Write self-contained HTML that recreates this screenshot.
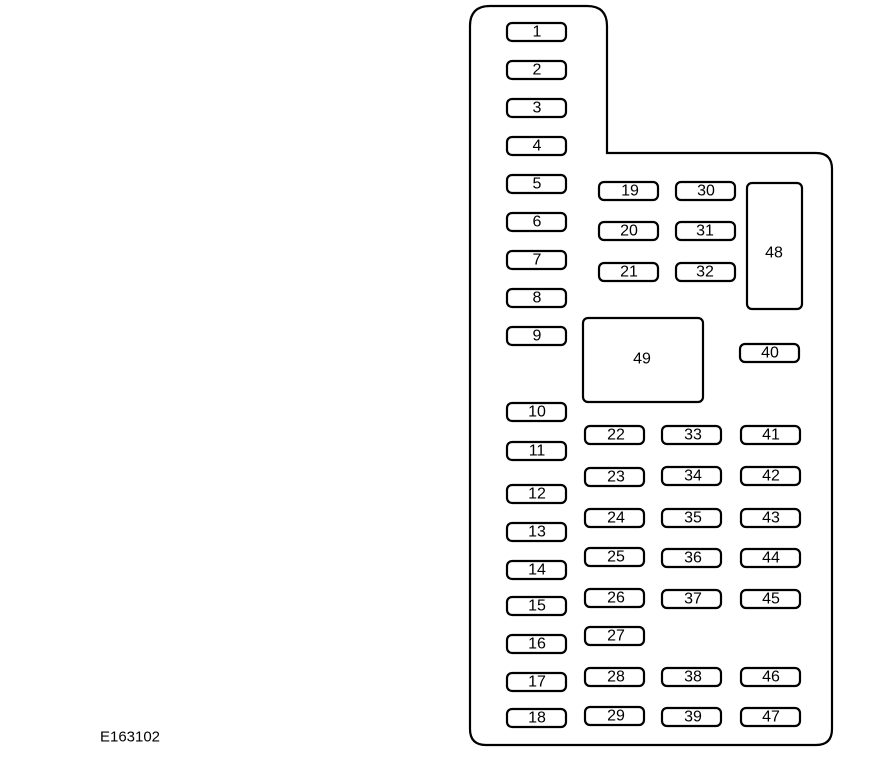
<!DOCTYPE html>
<html><head><meta charset="utf-8"><style>
html,body{margin:0;padding:0;background:#fff}
svg{display:block}
text{font-family:"Liberation Sans",sans-serif;font-size:16px;fill:#000;text-anchor:middle;dominant-baseline:central}
.f{fill:#fff;stroke:#000;stroke-width:2.2}
</style></head><body>
<svg width="874" height="763" viewBox="0 0 874 763" xmlns="http://www.w3.org/2000/svg">
<path d="M470,26 Q470,6 490,6 L587,6 Q607,6 607,26 L607,153 L816,153 Q832,153 832,169 L832,729 Q832,745 816,745 L486,745 Q470,745 470,729 Z" fill="#fff" stroke="#000" stroke-width="2.2"/>
<rect class="f" x="507" y="23" width="59" height="18" rx="5"/><text x="537" y="32">1</text>
<rect class="f" x="507" y="61" width="59" height="18" rx="5"/><text x="537" y="70">2</text>
<rect class="f" x="507" y="99" width="59" height="18" rx="5"/><text x="537" y="108">3</text>
<rect class="f" x="507" y="137" width="59" height="18" rx="5"/><text x="537" y="146">4</text>
<rect class="f" x="507" y="175" width="59" height="18" rx="5"/><text x="537" y="184">5</text>
<rect class="f" x="507" y="213" width="59" height="18" rx="5"/><text x="537" y="222">6</text>
<rect class="f" x="507" y="251" width="59" height="18" rx="5"/><text x="537" y="260">7</text>
<rect class="f" x="507" y="289" width="59" height="18" rx="5"/><text x="537" y="298">8</text>
<rect class="f" x="507" y="327" width="59" height="18" rx="5"/><text x="537" y="336">9</text>
<rect class="f" x="507" y="403" width="59" height="18" rx="5"/><text x="537" y="412">10</text>
<rect class="f" x="507" y="442" width="59" height="18" rx="5"/><text x="537" y="451">11</text>
<rect class="f" x="507" y="485" width="59" height="18" rx="5"/><text x="537" y="494">12</text>
<rect class="f" x="507" y="523" width="59" height="18" rx="5"/><text x="537" y="532">13</text>
<rect class="f" x="507" y="561" width="59" height="18" rx="5"/><text x="537" y="570">14</text>
<rect class="f" x="507" y="597" width="59" height="18" rx="5"/><text x="537" y="606">15</text>
<rect class="f" x="507" y="635" width="59" height="18" rx="5"/><text x="537" y="644">16</text>
<rect class="f" x="507" y="673" width="59" height="18" rx="5"/><text x="537" y="682">17</text>
<rect class="f" x="507" y="709" width="59" height="18" rx="5"/><text x="537" y="718">18</text>
<rect class="f" x="599" y="182" width="59" height="18" rx="5"/><text x="630" y="191">19</text>
<rect class="f" x="599" y="222" width="59" height="18" rx="5"/><text x="629" y="231">20</text>
<rect class="f" x="599" y="263" width="59" height="18" rx="5"/><text x="629" y="272">21</text>
<rect class="f" x="676" y="182" width="59" height="18" rx="5"/><text x="706" y="191">30</text>
<rect class="f" x="676" y="222" width="59" height="18" rx="5"/><text x="705" y="231">31</text>
<rect class="f" x="676" y="263" width="59" height="18" rx="5"/><text x="705" y="272">32</text>
<rect class="f" x="747" y="183" width="55" height="126" rx="5"/><text x="774" y="253">48</text>
<rect class="f" x="583" y="318" width="120" height="84" rx="5"/><text x="642" y="359">49</text>
<rect class="f" x="740" y="344" width="59" height="18" rx="5"/><text x="770" y="353">40</text>
<rect class="f" x="585" y="426" width="59" height="18" rx="5"/><text x="616" y="435">22</text>
<rect class="f" x="585" y="468" width="59" height="18" rx="5"/><text x="616" y="477">23</text>
<rect class="f" x="585" y="509" width="59" height="18" rx="5"/><text x="616" y="518">24</text>
<rect class="f" x="585" y="548" width="59" height="18" rx="5"/><text x="616" y="557">25</text>
<rect class="f" x="585" y="589" width="59" height="18" rx="5"/><text x="616" y="598">26</text>
<rect class="f" x="585" y="627" width="59" height="18" rx="5"/><text x="616" y="636">27</text>
<rect class="f" x="585" y="668" width="59" height="18" rx="5"/><text x="616" y="677">28</text>
<rect class="f" x="585" y="707" width="59" height="18" rx="5"/><text x="616" y="716">29</text>
<rect class="f" x="662" y="426" width="59" height="18" rx="5"/><text x="693" y="435">33</text>
<rect class="f" x="662" y="467" width="59" height="18" rx="5"/><text x="693" y="476">34</text>
<rect class="f" x="662" y="509" width="59" height="18" rx="5"/><text x="693" y="518">35</text>
<rect class="f" x="662" y="549" width="59" height="18" rx="5"/><text x="693" y="558">36</text>
<rect class="f" x="662" y="590" width="59" height="18" rx="5"/><text x="693" y="599">37</text>
<rect class="f" x="662" y="668" width="59" height="18" rx="5"/><text x="693" y="677">38</text>
<rect class="f" x="662" y="708" width="59" height="18" rx="5"/><text x="693" y="717">39</text>
<rect class="f" x="741" y="426" width="59" height="18" rx="5"/><text x="771" y="435">41</text>
<rect class="f" x="741" y="467" width="59" height="18" rx="5"/><text x="771" y="476">42</text>
<rect class="f" x="741" y="509" width="59" height="18" rx="5"/><text x="771" y="518">43</text>
<rect class="f" x="741" y="549" width="59" height="18" rx="5"/><text x="771" y="558">44</text>
<rect class="f" x="741" y="590" width="59" height="18" rx="5"/><text x="771" y="599">45</text>
<rect class="f" x="741" y="668" width="59" height="18" rx="5"/><text x="771" y="677">46</text>
<rect class="f" x="741" y="708" width="59" height="18" rx="5"/><text x="771" y="717">47</text>
<text x="130" y="737" style="font-size:15px">E163102</text>
</svg>
</body></html>
